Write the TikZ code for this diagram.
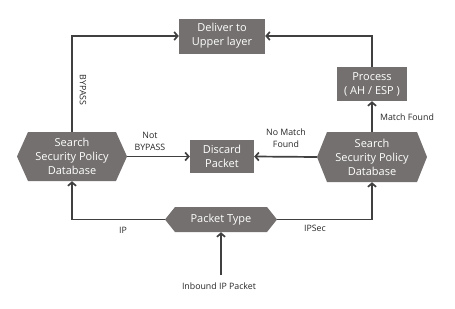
\documentclass[tikz,border=0pt]{standalone}
\usepackage{fontspec}
\setmainfont{Open Sans}
\usetikzlibrary{arrows.meta}
\definecolor{boxgray}{HTML}{757070}
\definecolor{linegray}{HTML}{404040}
\newcommand\hexfill[5]{\fill[boxgray] (#1-#3,#2) -- (#1-#3+#5,#2-#4) -- (#1+#3-#5,#2-#4) -- (#1+#3,#2) -- (#1+#3-#5,#2+#4) -- (#1-#3+#5,#2+#4) -- cycle;}
\begin{document}
\begin{tikzpicture}[x=1pt,y=-1pt,
 box/.style={fill=boxgray, text=white, font=\fontsize{11}{14}\selectfont, align=center, inner sep=0pt},
 hexnode/.style={text=white, font=\fontsize{11}{14}\selectfont, align=center, inner sep=0pt},
 conn/.style={draw=linegray, line width=1.7pt, -{Straight Barb[length=3.5pt,width=8pt]}},
 lbl/.style={font=\fontsize{8.8}{12}\selectfont, text=black!85, align=center, inner sep=0pt}]
\useasboundingbox (0,0) rectangle (455,308);
\node[box, minimum width=86pt, minimum height=35pt] (deliver) at (222,36) {Deliver to\\Upper layer};
\node[box, minimum width=70pt, minimum height=34pt] (process) at (372,84) {Process\\( AH / ESP )};
\node[box, minimum width=64pt, minimum height=33pt] (discard) at (222,156.5) {Discard\\Packet};
\hexfill{72}{156.5}{55}{24.5}{11}
\node[hexnode, minimum width=110pt, minimum height=49pt] (sl) at (72,156.5) {Search\\Security Policy\\Database};
\hexfill{372}{157}{55}{25}{10}
\node[hexnode, minimum width=110pt, minimum height=50pt] (sr) at (372,157) {Search\\Security Policy\\Database};
\hexfill{221}{219.5}{56}{12.5}{10}
\node[hexnode, minimum width=112pt, minimum height=25pt] (pt) at (221,219.5) {Packet Type};
\coordinate (start) at (221,275);
\draw[conn] (sl.north) |- (deliver.west);
\draw[conn] (process.north) |- (deliver.east);
\draw[conn] (sr.north) -- (process.south);
\draw[conn] (sl.east) -- (discard.west);
\draw[conn] (sr.west) -- (discard.east);
\draw[conn] (pt.west) -| (sl.south);
\draw[conn] (pt.east) -| (sr.south);
\draw[conn] (start) -- (pt.south);
\node[lbl, rotate=-90] (bypass) at (83,90) {BYPASS};
\node[lbl] (notbypass) at (150,141) {Not\\BYPASS};
\node[lbl] (nomatch) at (286,138) {No Match\\Found};
\node[lbl] (match) at (407,117) {Match Found};
\node[lbl] (ip) at (123,230) {IP};
\node[lbl] (ipsec) at (315,228) {IPSec};
\node[lbl] (inbound) at (219,286) {Inbound IP Packet};
\end{tikzpicture}
\end{document}
